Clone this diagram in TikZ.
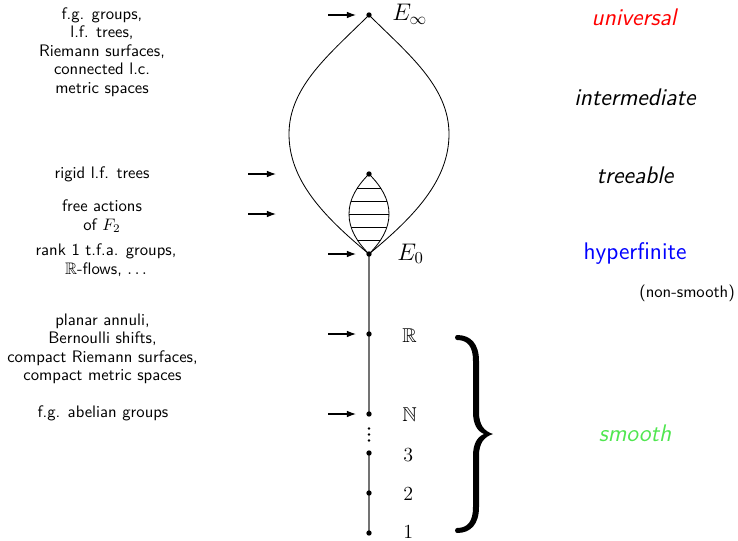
\documentclass[tikz,border=0pt]{standalone}
\usepackage{amssymb}
\usetikzlibrary{arrows.meta}
\definecolor{smoothgreen}{RGB}{80,230,80}
\pgfdeclarelayer{background}
\pgfsetlayers{background,main}
\begin{document}
\begin{tikzpicture}[x=0.6pt,y=-0.6pt,
  lefttxt/.style={font=\fontsize{10}{11.1}\selectfont\sffamily, align=center, inner sep=0},
  classlbl/.style={font=\Large\sffamily\slshape, inner sep=0},
  mathlbl/.style={font=\large, inner sep=0, anchor=base west},
  biglbl/.style={font=\Large, inner sep=0, anchor=base west},
  vdot/.style={circle, fill=black, inner sep=0, minimum size=3.2pt},
  smalldot/.style={circle, fill=black, inner sep=0, minimum size=1.7pt},
  pointer/.style={-{Latex[length=5.5pt,width=4pt]}, line width=0.65pt},
  spine/.style={draw=black!55, line width=1pt},
  lens/.style={draw=black, line width=0.5pt},
]
\useasboundingbox (0,0) rectangle (738,541);

% dots on the spine
\node[vdot] (Einf) at (369,15) {};
\node[vdot] (Ttop) at (369,174) {};
\node[vdot] (E0) at (369,254) {};
\node[vdot] (R) at (369,334) {};
\node[vdot] (N) at (369,414) {};
\node[smalldot] (v1) at (369,428.5) {};
\node[smalldot] (v2) at (369,434.5) {};
\node[smalldot] (v3) at (369,440.5) {};
\node[vdot] (n3) at (369,453) {};
\node[vdot] (n2) at (369,493) {};
\node[vdot] (n1) at (369,533) {};

\begin{pgfonlayer}{background}
  \draw[spine] (E0.center) -- (N.center);
  \draw[spine] (n3.center) -- (n1.center);
  % large lens
  \draw[lens] (Einf.center) .. controls (331,53) and (289,86) .. (289,134)
     .. controls (289,180) and (323,216) .. (E0.center)
     .. controls (415,216) and (449,180) .. (449,134)
     .. controls (449,86) and (407,53) .. (Einf.center);
  % small hatched lens
  \draw[lens] (Ttop.center) .. controls (357,186) and (349,199) .. (349,214)
     .. controls (349,229) and (357,242) .. (E0.center)
     .. controls (381,242) and (389,229) .. (389,214)
     .. controls (389,199) and (381,186) .. (Ttop.center);
  \begin{scope}
    \clip (Ttop.center) .. controls (357,186) and (349,199) .. (349,214)
     .. controls (349,229) and (357,242) .. (E0.center)
     .. controls (381,242) and (389,229) .. (389,214)
     .. controls (389,199) and (381,186) .. (Ttop.center) -- cycle;
    \foreach \yy in {188,201,214,227,240}
      \draw[lens] (340,\yy) -- (400,\yy);
  \end{scope}
\end{pgfonlayer}

% math labels
\node[biglbl] (lEinf) at (392,21) {$E_\infty$};
\node[biglbl] (lE0) at (397,260) {$E_0$};
\node[mathlbl] (lR) at (402,342) {$\mathbb{R}$};
\node[mathlbl] (lN) at (402,421) {$\mathbb{N}$};
\node[mathlbl] (l3) at (403,461) {$3$};
\node[mathlbl] (l2) at (403,500) {$2$};
\node[mathlbl] (l1) at (403,538) {$1$};

% pointer arrows
\coordinate (aInfS) at (328,15);  \coordinate (aInfE) at (356,15);
\coordinate (aRigS) at (248,174); \coordinate (aRigE) at (276,174);
\coordinate (aFreS) at (248,214); \coordinate (aFreE) at (276,214);
\coordinate (aE0S) at (328,254);  \coordinate (aE0E) at (356,254);
\coordinate (aRS) at (328,334);   \coordinate (aRE) at (356,334);
\coordinate (aNS) at (328,414);   \coordinate (aNE) at (356,414);
\draw[pointer] (aInfS) -- (aInfE);
\draw[pointer] (aRigS) -- (aRigE);
\draw[pointer] (aFreS) -- (aFreE);
\draw[pointer] (aE0S) -- (aE0E);
\draw[pointer] (aRS) -- (aRE);
\draw[pointer] (aNS) -- (aNE);

% left texts
\node[lefttxt] (tInf) at (102,52) {f.g. groups,\\l.f. trees,\\Riemann surfaces,\\connected l.c.\\metric spaces};
\node[lefttxt] (tRig) at (102,174) {rigid l.f. trees};
\node[lefttxt] (tFree) at (102,216.5) {free actions\\of $F_2$};
\node[lefttxt] (tE0) at (106,260) {rank 1 t.f.a. groups,\\$\mathbb{R}$-flows, $\ldots$};
\node[lefttxt] (tR) at (102.5,349) {planar annuli,\\Bernoulli shifts,\\compact Riemann surfaces,\\compact metric spaces};
\node[lefttxt] (tN) at (103,413) {f.g. abelian groups};

% right class labels
\node[classlbl, text=red] (cUni) at (634,17) {universal};
\node[classlbl] (cInt) at (635,97) {intermediate};
\node[classlbl] (cTree) at (635,175) {treeable};
\node[font=\Large\sffamily, text=blue, inner sep=0] (cHyp) at (635,253) {hyperfinite};
\node[font=\normalsize\sffamily, inner sep=0] (cNon) at (687,293) {(non-smooth)};
\node[classlbl, text=smoothgreen] (cSmooth) at (635,433) {smooth};

% brace
\fill[black] (457,335) .. controls (471,335) and (479,344) .. (479,361)
  -- (479,412) .. controls (479,425) and (484,431) .. (493,434)
  .. controls (484,437) and (479,443) .. (479,456)
  -- (479,507) .. controls (479,524) and (471,533) .. (457,533)
  .. controls (454.5,533) and (454.5,528) .. (457,528)
  .. controls (468,528) and (473,521) .. (473,507)
  -- (473,456) .. controls (473,444) and (477,437) .. (484,434)
  .. controls (477,431) and (473,424) .. (473,412)
  -- (473,361) .. controls (473,347) and (468,340) .. (457,340)
  .. controls (454.5,340) and (454.5,335) .. (457,335) -- cycle;
\end{tikzpicture}
\end{document}
